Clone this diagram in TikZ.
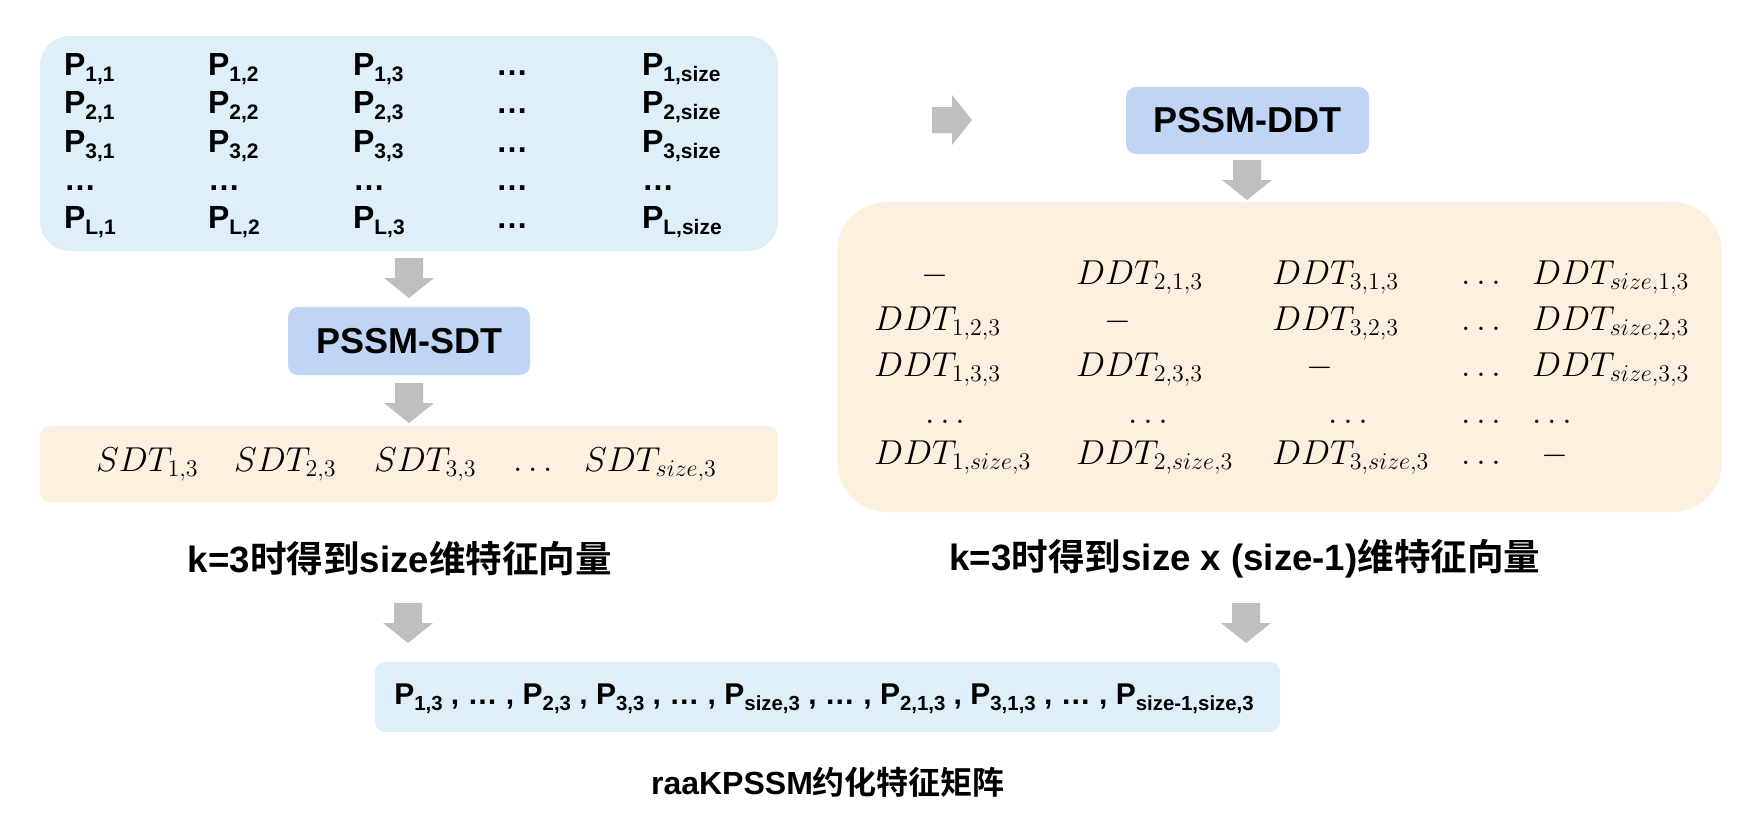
\documentclass[tikz,border=0pt]{standalone}
\usepackage{fontspec}
\setmainfont{Liberation Sans}
\newfontfamily\cjk{Noto Sans CJK SC}[BoldFont={* Bold}]
\DeclareMathSizes{16}{16}{12.3}{10}
\definecolor{boxblue}{RGB}{222,239,250}
\definecolor{procblue}{RGB}{192,213,245}
\definecolor{boxorange}{RGB}{254,240,222}
\definecolor{arrowgray}{RGB}{191,191,191}
\newcommand{\PS}[1]{P\raisebox{-3.4pt}{\fontsize{10.5}{12}\selectfont #1}}
\newcommand{\PB}[1]{P\raisebox{-3.2pt}{\fontsize{10.2}{11}\selectfont #1}}
\begin{document}
\begin{tikzpicture}[x=0.5pt,y=-0.5pt,
  every node/.style={inner sep=0pt,outer sep=0pt},
  panel/.style={draw=none},
  ptxt/.style={anchor=base west,font=\bfseries\fontsize{16}{18}\selectfont},
  mtxt/.style={anchor=base west,font=\fontsize{16}{18}\selectfont},
  mtxc/.style={anchor=base,font=\fontsize{16}{18}\selectfont},
  proc/.style={fill=procblue,rounded corners=5pt,font=\bfseries\fontsize{18}{20}\selectfont},
  lbl/.style={font=\bfseries\fontsize{18.3}{20}\selectfont},
  pics/dnarr/.style={code={\fill[arrowgray] (-14,0) -- (14,0) -- (14,20) -- (25,20) -- (0,40) -- (-25,20) -- (-14,20) -- cycle;}},
  pics/rtarr/.style={code={\fill[arrowgray] (0,-13) -- (20,-13) -- (20,-25) -- (40,0) -- (20,25) -- (20,13) -- (0,13) -- cycle;}}
]
\useasboundingbox (0,0) rectangle (1764,826);
\fill[white] (0,0) rectangle (1764,826);

% panels
\node[panel,fill=boxblue,rounded corners=15pt,minimum width=369pt,minimum height=107.5pt] (pmat) at (409,143.5) {};
\node[panel,fill=boxorange,rounded corners=5pt,minimum width=369pt,minimum height=38pt] (sdt) at (409,464) {};
\node[panel,fill=boxorange,rounded corners=25pt,minimum width=442.5pt,minimum height=155pt] (ddt) at (1279.5,357) {};
\node[panel,fill=boxblue,rounded corners=5pt,minimum width=452.5pt,minimum height=35pt] (res) at (827.5,697) {};
\node[proc,minimum width=121pt,minimum height=34pt] (psdt) at (409,341) {PSSM-SDT};
\node[proc,minimum width=121.5pt,minimum height=33.5pt] (pddt) at (1247.5,120.5) {PSSM-DDT};

% arrows
\pic (arrA) at (409,258) {dnarr};
\pic (arrB) at (409,383) {dnarr};
\pic (arrC) at (1247,160) {dnarr};
\pic (arrD) at (408,603) {dnarr};
\pic (arrE) at (1246,603) {dnarr};
\pic (arrR) at (932,120) {rtarr};

% PSSM matrix
\node[ptxt] (p11) at (64,75) {\PS{1,1}};
\node[ptxt] (p12) at (208,75) {\PS{1,2}};
\node[ptxt] (p13) at (353,75) {\PS{1,3}};
\node[ptxt] (p14) at (496,75) {…};
\node[ptxt] (p15) at (642,75) {\PS{1,size}};
\node[ptxt] (p21) at (64,113) {\PS{2,1}};
\node[ptxt] (p22) at (208,113) {\PS{2,2}};
\node[ptxt] (p23) at (353,113) {\PS{2,3}};
\node[ptxt] (p24) at (496,113) {…};
\node[ptxt] (p25) at (642,113) {\PS{2,size}};
\node[ptxt] (p31) at (64,152) {\PS{3,1}};
\node[ptxt] (p32) at (208,152) {\PS{3,2}};
\node[ptxt] (p33) at (353,152) {\PS{3,3}};
\node[ptxt] (p34) at (496,152) {…};
\node[ptxt] (p35) at (642,152) {\PS{3,size}};
\node[ptxt] (p41) at (64,190) {…};
\node[ptxt] (p42) at (208,190) {…};
\node[ptxt] (p43) at (353,190) {…};
\node[ptxt] (p44) at (496,190) {…};
\node[ptxt] (p45) at (642,190) {…};
\node[ptxt] (p51) at (64,228) {\PS{L,1}};
\node[ptxt] (p52) at (208,228) {\PS{L,2}};
\node[ptxt] (p53) at (353,228) {\PS{L,3}};
\node[ptxt] (p54) at (496,228) {…};
\node[ptxt] (p55) at (642,228) {\PS{L,size}};

% SDT row
\node[mtxt] (s1) at (96,471) {$SDT_{1,3}$};
\node[mtxt] (s2) at (234,471) {$SDT_{2,3}$};
\node[mtxt] (s3) at (374,471) {$SDT_{3,3}$};
\node[mtxt] (s4) at (513,471) {$\ldots$};
\node[mtxt] (s5) at (584,471) {$SDT_{size,3}$};

% DDT matrix
\node[mtxc] (d11) at (935,284) {$-$};
\node[mtxt] (d12) at (1076,284) {$DDT_{2,1,3}$};
\node[mtxt] (d13) at (1272,284) {$DDT_{3,1,3}$};
\node[mtxc] (d14) at (1481,284) {$\ldots$};
\node[mtxt] (d15) at (1532,284) {$DDT_{size,1,3}$};
\node[mtxt] (d21) at (874,330) {$DDT_{1,2,3}$};
\node[mtxc] (d22) at (1118,330) {$-$};
\node[mtxt] (d23) at (1272,330) {$DDT_{3,2,3}$};
\node[mtxc] (d24) at (1481,330) {$\ldots$};
\node[mtxt] (d25) at (1532,330) {$DDT_{size,2,3}$};
\node[mtxt] (d31) at (874,376) {$DDT_{1,3,3}$};
\node[mtxt] (d32) at (1076,376) {$DDT_{2,3,3}$};
\node[mtxc] (d33) at (1320,376) {$-$};
\node[mtxc] (d34) at (1481,376) {$\ldots$};
\node[mtxt] (d35) at (1532,376) {$DDT_{size,3,3}$};
\node[mtxc] (d41) at (945,423) {$\ldots$};
\node[mtxc] (d42) at (1148,423) {$\ldots$};
\node[mtxc] (d43) at (1348,423) {$\ldots$};
\node[mtxc] (d44) at (1481,423) {$\ldots$};
\node[mtxt] (d45) at (1532,423) {$\ldots$};
\node[mtxt] (d51) at (874,464) {$DDT_{1,size,3}$};
\node[mtxt] (d52) at (1076,464) {$DDT_{2,size,3}$};
\node[mtxt] (d53) at (1272,464) {$DDT_{3,size,3}$};
\node[mtxc] (d54) at (1481,464) {$\ldots$};
\node[mtxc] (d55) at (1555,464) {$-$};

% labels
\node[lbl] (lbl1) at (400,559) {k=3{\cjk 时得到}size{\cjk 维特征向量}};
\node[lbl] (lbl2) at (1245,559) {k=3{\cjk 时得到}size x (size-1){\cjk 维特征向量}};
\node[anchor=base,font=\bfseries\fontsize{15}{17}\selectfont] (restxt) at (824,704)
  {\PB{1,3} , … , \PB{2,3} , \PB{3,3} , … , \PB{size,3} , … , \PB{2,1,3} , \PB{3,1,3} , … , \PB{size-1,size,3}};
\node[font=\bfseries\fontsize{16}{18}\selectfont] (lbl3) at (828,782) {raaKPSSM{\cjk 约化特征矩阵}};
\end{tikzpicture}
\end{document}
